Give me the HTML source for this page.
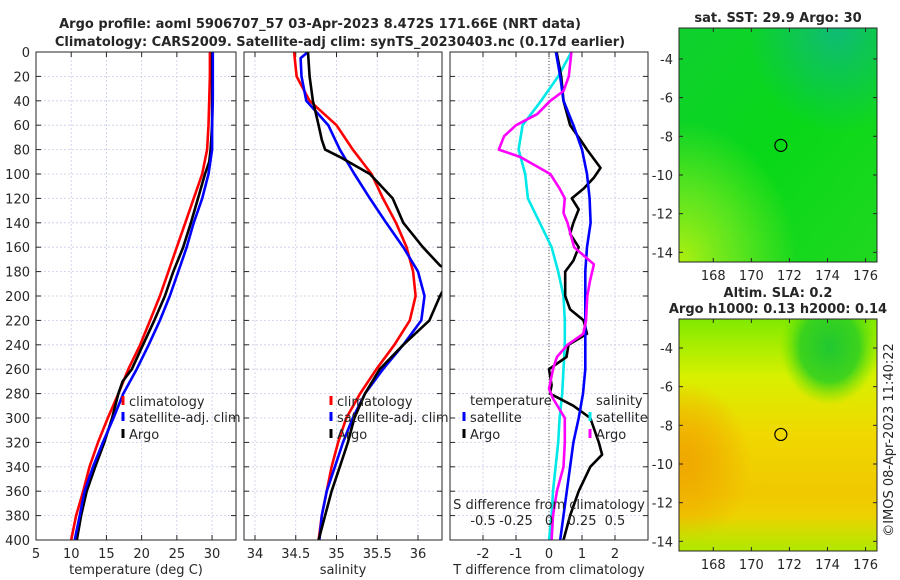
<!DOCTYPE html>
<html><head><meta charset="utf-8"><style>
html,body{margin:0;padding:0;background:#fff;width:900px;height:580px;overflow:hidden}
svg{display:block;font-family:"DejaVu Sans","Liberation Sans",sans-serif}
</style></head><body>
<svg id="chart" width="900" height="580" viewBox="0 0 900 580" xmlns="http://www.w3.org/2000/svg">
<defs>
<linearGradient id="sstg" x1="0" y1="0" x2="1" y2="1">
<stop offset="0" stop-color="#10d030"/><stop offset="0.5" stop-color="#08d818"/><stop offset="1" stop-color="#20d820"/></linearGradient>
<radialGradient id="sstTeal" cx="0.8" cy="0" r="0.45"><stop offset="0" stop-color="#10b880" stop-opacity="0.9"/><stop offset="1" stop-color="#10b880" stop-opacity="0"/></radialGradient>
<radialGradient id="sstYel" cx="0" cy="1" r="0.6"><stop offset="0" stop-color="#b0f010"/><stop offset="0.5" stop-color="#70e820" stop-opacity="0.8"/><stop offset="1" stop-color="#70e820" stop-opacity="0"/></radialGradient>
<linearGradient id="slag" x1="0" y1="0" x2="0" y2="1">
<stop offset="0" stop-color="#80ea00"/><stop offset="0.25" stop-color="#d8f000"/><stop offset="0.5" stop-color="#f0d800"/><stop offset="0.75" stop-color="#f0c800"/><stop offset="1" stop-color="#e8e000"/></linearGradient>
<radialGradient id="slaGreen" cx="0.76" cy="0.12" r="0.25"><stop offset="0" stop-color="#20c830"/><stop offset="0.6" stop-color="#30d020" stop-opacity="0.9"/><stop offset="1" stop-color="#60e000" stop-opacity="0"/></radialGradient>
<radialGradient id="slaOr" cx="0.02" cy="0.62" r="0.35"><stop offset="0" stop-color="#f0a800"/><stop offset="1" stop-color="#f0b800" stop-opacity="0"/></radialGradient>
<linearGradient id="slaBot" x1="0" y1="0" x2="0" y2="1"><stop offset="0.85" stop-color="#a0e800" stop-opacity="0"/><stop offset="1" stop-color="#a0e800" stop-opacity="0.8"/></linearGradient>
</defs>
<g id="plots"></g>
</svg>
<script>
// ---------- DATA ----------
const depthStd = [0,20,40,60,80,100,120,140,160,180,200,220,240,260,280,300,320,340,360,380,400];
const tempClim = [29.7,29.7,29.6,29.5,29.3,28.6,27.4,26.2,25.0,23.8,22.6,21.2,19.8,18.1,16.7,15.2,13.8,12.6,11.7,10.7,10.0];
const tempSat  = [30.1,30.1,30.1,30.0,30.0,29.5,28.6,27.4,26.4,25.2,24.0,22.6,21.0,19.3,17.4,16.0,14.5,13.1,11.9,11.2,10.5];
const depthArgoT = [0,20,40,60,80,90,100,110,120,140,160,180,200,220,240,260,270,280,300,320,340,360,380,400];
const tempArgo = [30.0,30.0,30.0,30.0,29.8,29.6,29.0,28.5,28.0,27.0,25.9,24.5,23.3,21.8,20.2,18.6,17.3,16.7,15.8,14.7,13.4,12.2,11.4,10.8];
const salClim = [34.48,34.51,34.67,35.0,35.2,35.43,35.57,35.73,35.86,35.94,35.97,35.9,35.71,35.49,35.29,35.12,35.02,34.94,34.88,34.82,34.78];
const depthSatS = [0,5,20,40,60,80,100,120,140,160,180,200,220,240,260,280,300,320,340,360,380,400];
const salSat = [34.65,34.56,34.57,34.63,34.9,35.04,35.22,35.41,35.61,35.82,36.0,36.08,36.04,35.82,35.57,35.35,35.2,35.08,34.98,34.88,34.82,34.79];
const depthArgoS = [0,20,40,60,72,80,86,100,120,140,160,175,180,190,200,220,240,260,280,300,320,340,360,380,400];
const salArgo = [34.65,34.67,34.71,34.78,34.82,34.86,35.04,35.41,35.69,35.82,36.06,36.27,36.4,36.35,36.27,36.14,35.82,35.53,35.35,35.22,35.14,35.04,34.94,34.86,34.78];
const depthDiffSat = [0,20,40,60,80,100,120,140,160,180,200,220,240,260,280,300,320,340,360,380,400];
const tDiffSat = [0.21,0.34,0.44,0.74,1.0,1.15,1.23,1.26,1.15,1.1,1.1,1.1,1.1,1.1,1.03,0.9,0.74,0.64,0.54,0.44,0.34];
const sDiffSat = [0.17,0.07,-0.06,-0.2,-0.23,-0.18,-0.16,-0.07,0.02,0.07,0.11,0.12,0.12,0.11,0.1,0.08,0.07,0.05,0.03,0.02,0.0];
const depthTDiffArgo = [0,20,40,60,72,80,95,103,112,120,129,140,149,160,171,180,200,211,220,231,240,250,260,273,280,290,300,320,330,340,360,380,400];
const tDiffArgo = [0.23,0.37,0.44,0.64,0.95,1.15,1.56,1.36,1.05,0.69,0.9,0.74,0.64,0.9,0.74,0.49,0.49,0.64,1.05,1.15,0.59,0.53,0.0,0.08,0.03,0.74,1.25,1.51,1.61,1.25,0.9,0.64,0.44];
const depthSDiffArgo = [0,20,32,40,51,60,69,80,86,100,112,120,132,140,160,174,188,200,220,231,240,250,260,276,284,300,320,340,360,380,400];
const sDiffArgo = [0.17,0.15,0.11,0.01,-0.09,-0.25,-0.34,-0.38,-0.22,0.01,0.08,0.12,0.11,0.14,0.19,0.34,0.31,0.29,0.28,0.26,0.14,0.06,0.03,0.0,0.03,0.12,0.12,0.11,0.06,0.03,0.02];
const depthTicks = [0,20,40,60,80,100,120,140,160,180,200,220,240,260,280,300,320,340,360,380,400];
const tempTicks = [5,10,15,20,25,30];
const salTicks = [34,34.5,35,35.5,36];
const tDiffTicks = [-2,-1,0,1,2];
const sDiffTicks = [-0.5,-0.25,0,0.25,0.5];
const sDiffTickLabels = ["-0.5","-0.25","0","0.25","0.5"];
const latTicks = [-4,-6,-8,-10,-12,-14];
const lonTicks = [168,170,172,174,176];
const argoLon = 171.55, argoLat = -8.47;

// ---------- HELPERS ----------
const NS = "http://www.w3.org/2000/svg";
const root = document.getElementById('plots');
function mk(tag, attrs, parent){const e=document.createElementNS(NS,tag);for(const k in attrs)e.setAttribute(k,attrs[k]);(parent||root).appendChild(e);return e;}
function txt(s,x,y,attrs,parent){const e=mk('text',Object.assign({x:x,y:y,'font-size':13,fill:'#262626'},attrs),parent);e.textContent=s;return e;}

const PY0=52, PY1=540;
const yD = d => PY0 + (d/400)*(PY1-PY0);
function lin(d0,d1,r0,r1){return v => r0 + (v-d0)/(d1-d0)*(r1-r0);}

function panel(name,x0,x1,xs,xTicks,xLabels,xTitle,showY){
  const g=mk('g',{});
  
  
  const clip=mk('clipPath',{id:'clip-'+name},g);mk('rect',{x:x0,y:PY0,width:x1-x0,height:PY1-PY0},clip);
  depthTicks.forEach(d=>{
    const gl=mk('line',{x1:x0,x2:x1,y1:yD(d),y2:yD(d),stroke:'#c8cce8','stroke-width':0.8,'stroke-dasharray':'2,2'},g);
    
    
    mk('line',{x1:x0,x2:x0+5,y1:yD(d),y2:yD(d),stroke:'#262626'},g);
    mk('line',{x1:x1-5,x2:x1,y1:yD(d),y2:yD(d),stroke:'#262626'},g);
    if(showY){const t=txt(String(d),x0-6,yD(d)+5,{'text-anchor':'end'},g);
      
      }
  });
  xTicks.forEach((v,i)=>{
    const x=xs(v);
    if(x<x0-1||x>x1+1)return;
    mk('line',{x1:x,x2:x,y1:PY0,y2:PY1,stroke:'#c8cce8','stroke-width':0.8,'stroke-dasharray':'2,2'},g);
    mk('line',{x1:x,x2:x,y1:PY1-5,y2:PY1,stroke:'#262626'},g);
    mk('line',{x1:x,x2:x,y1:PY0,y2:PY0+5,stroke:'#262626'},g);
    const t=txt(xLabels[i],x,PY1+18,{'text-anchor':'middle'},g);
    
    
  });
  const at=txt(xTitle,(x0+x1)/2,PY1+34,{'text-anchor':'middle'},g);
  
  
  return {g:g,clip:'url(#clip-'+name+')'};
}
function series(p,name,xs,vals,depths,color,w){
  const pts=vals.map((v,i)=>xs(v).toFixed(1)+','+yD(depths[i]).toFixed(1)).join(' ');
  const l=mk('polyline',{points:pts,fill:'none',stroke:color,'stroke-width':w||2.6,'stroke-linejoin':'round','clip-path':p.clip},p.g);
  
  
}
function frame(p,x0,x1){mk('rect',{x:x0,y:PY0,width:x1-x0,height:PY1-PY0,fill:'none',stroke:'#262626','stroke-width':1},p.g);}
function legendEntry(p,name,x,y,color,label){
  const g=mk('g',{},p.g);
  
  
  mk('line',{x1:x,x2:x,y1:y-10,y2:y-1,stroke:color,'stroke-width':3},g);
  txt(label,x+6,y,{},g);
}

// Panel 1: temperature
const xT=lin(5,33.4,36,236);
const p1=panel('temperature-panel',36,236,xT,tempTicks,tempTicks.map(String),'temperature (deg C)',true);
series(p1,'temperature-climatology-line',xT,tempClim,depthStd,'#ff0000');
series(p1,'temperature-argo-line',xT,tempArgo,depthArgoT,'#000000');
series(p1,'temperature-satellite-line',xT,tempSat,depthStd,'#0000ff');
frame(p1,36,236);
legendEntry(p1,'legend-climatology',123,406,'#ff0000','climatology');
legendEntry(p1,'legend-satellite-adj',123,422,'#0000ff','satellite-adj. clim');
legendEntry(p1,'legend-argo',123,439,'#000000','Argo');

// Panel 2: salinity
const xS=lin(34,36,255,418);
const p2=panel('salinity-panel',244,442,xS,salTicks,['34','34.5','35','35.5','36'],'salinity',false);
series(p2,'salinity-climatology-line',xS,salClim,depthStd,'#ff0000');
series(p2,'salinity-satellite-line',xS,salSat,depthSatS,'#0000ff');
series(p2,'salinity-argo-line',xS,salArgo,depthArgoS,'#000000');
frame(p2,244,442);
legendEntry(p2,'legend-climatology-sal',331,406,'#ff0000','climatology');
legendEntry(p2,'legend-satellite-adj-sal',331,422,'#0000ff','satellite-adj. clim');
legendEntry(p2,'legend-argo-sal',331,439,'#000000','Argo');

// Panel 3: differences
const xTd=lin(-3,3,450,648);
const xSd=lin(-0.75,0.75,450,648);
const p3=panel('difference-panel',450,648,xTd,tDiffTicks,tDiffTicks.map(String),'T difference from climatology',false);
mk('line',{x1:xTd(0),x2:xTd(0),y1:PY0,y2:PY1,stroke:'#555','stroke-width':1,'stroke-dasharray':'1,2'},p3.g);
series(p3,'s-diff-satellite-line',xSd,sDiffSat,depthDiffSat,'#00e8e8');
series(p3,'t-diff-argo-line',xTd,tDiffArgo,depthTDiffArgo,'#000000');
series(p3,'t-diff-satellite-line',xTd,tDiffSat,depthDiffSat,'#0000ff');
series(p3,'s-diff-argo-line',xSd,sDiffArgo,depthSDiffArgo,'#ff00ff');
frame(p3,450,648);
const st=txt('S difference from climatology',549,509,{'text-anchor':'middle'},p3.g);


sDiffTicks.forEach((v,i)=>{const t=txt(sDiffTickLabels[i],xSd(v),525,{'text-anchor':'middle'},p3.g);
  
  });
txt('temperature',470,405,{},p3.g);
txt('salinity',596,405,{},p3.g);
legendEntry(p3,'legend-t-satellite',464,422,'#0000ff','satellite');
legendEntry(p3,'legend-t-argo',464,439,'#000000','Argo');
legendEntry(p3,'legend-s-satellite',590,422,'#00e8e8','satellite');
legendEntry(p3,'legend-s-argo',590,439,'#ff00ff','Argo');

// Titles
const t1=txt('Argo profile: aoml 5906707_57 03-Apr-2023 8.472S 171.66E (NRT data)',320,28,{'text-anchor':'middle','font-weight':'bold'});


const t2=txt('Climatology: CARS2009. Satellite-adj clim: synTS_20230403.nc (0.17d earlier)',340,46,{'text-anchor':'middle','font-weight':'bold'});



// Maps
function map(name,y0,y1,latTop,latBot,fills,titles){
  const x0=679,x1=877;
  const g=mk('g',{});
  
  
  fills.forEach(f=>mk('rect',{x:x0,y:y0,width:x1-x0,height:y1-y0,fill:f},g));
  const lx=lin(166.2,176.6,x0,x1), ly=lin(latTop,latBot,y0,y1);
  latTicks.forEach(v=>{mk('line',{x1:x0,x2:x0+4,y1:ly(v),y2:ly(v),stroke:'#262626'},g);mk('line',{x1:x1-4,x2:x1,y1:ly(v),y2:ly(v),stroke:'#262626'},g);
    const t=txt(String(v),x0-6,ly(v)+5,{'text-anchor':'end'},g);
    
    });
  lonTicks.forEach(v=>{mk('line',{x1:lx(v),x2:lx(v),y1:y1-4,y2:y1,stroke:'#262626'},g);mk('line',{x1:lx(v),x2:lx(v),y1:y0,y2:y0+4,stroke:'#262626'},g);
    const t=txt(String(v),lx(v),y1+18,{'text-anchor':'middle'},g);
    
    });
  const c=mk('circle',{cx:lx(argoLon),cy:ly(argoLat),r:6,fill:'none',stroke:'#000','stroke-width':1.2},g);
  
  
  mk('rect',{x:x0,y:y0,width:x1-x0,height:y1-y0,fill:'none',stroke:'#262626'},g);
  titles.forEach((s,i)=>{const t=txt(s,(x0+x1)/2,y0-6-(titles.length-1-i)*16,{'text-anchor':'middle','font-weight':'bold'},g);
    
    });
}
map('sst-map',28,262,-2.4,-14.5,['url(#sstg)','url(#sstYel)','url(#sstTeal)'],['sat. SST: 29.9 Argo: 30']);
map('sla-map',319,551,-2.5,-14.5,['url(#slag)','url(#slaOr)','url(#slaOr)','url(#slaBot)','url(#slaGreen)'],['Altim. SLA: 0.2','Argo h1000: 0.13 h2000: 0.14']);

const cr=txt('©IMOS 08-Apr-2023 11:40:22',0,0,{'text-anchor':'middle','transform':'translate(893,440) rotate(-90)'});


</script>
</body></html>
